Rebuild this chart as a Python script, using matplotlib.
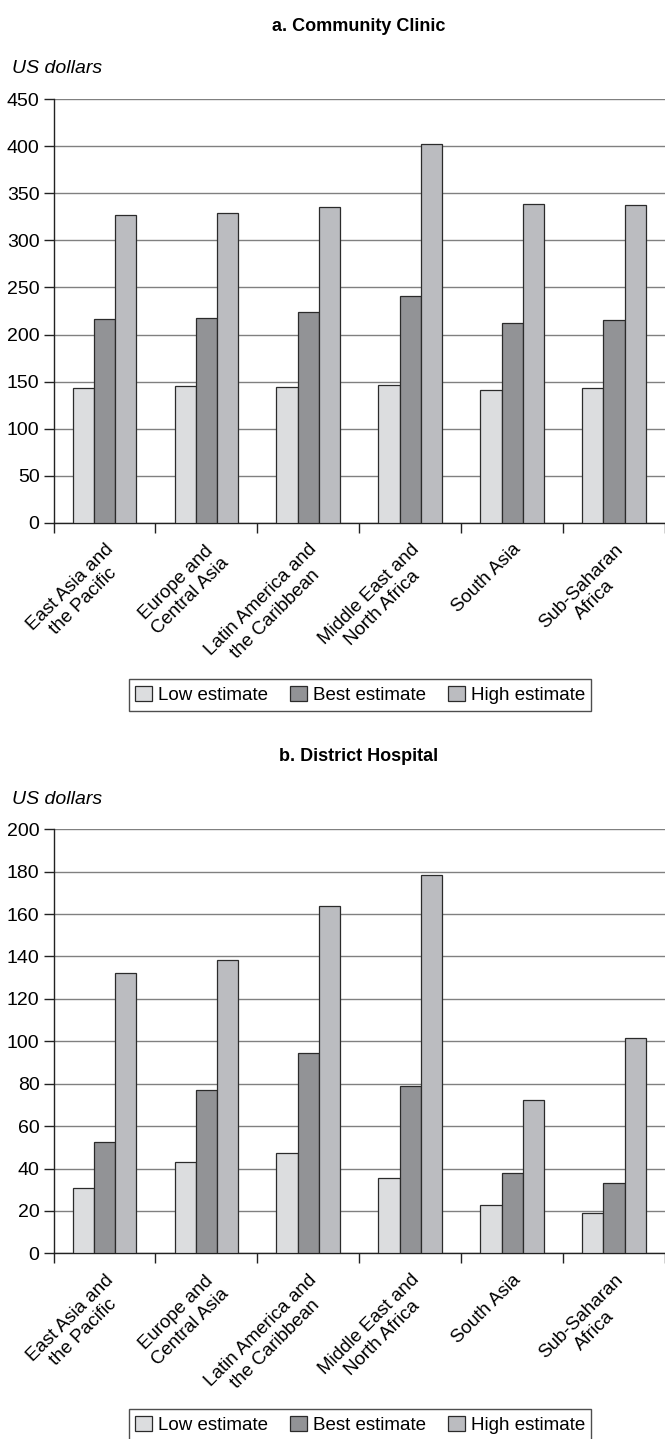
import numpy as np
import matplotlib
matplotlib.use('Agg')
import matplotlib.pyplot as plt

plt.rcParams['font.family'] = ['Liberation Sans', 'DejaVu Sans']

# data
regioes = ['East Asia and\nthe Pacific', 'Europe and\nCentral Asia',
           'Latin America and\nthe Caribbean', 'Middle East and\nNorth Africa',
           'South Asia', 'Sub-Saharan\nAfrica']
series = ['Low estimate', 'Best estimate', 'High estimate']

low_a = [143, 145, 144, 146, 141, 143]
best_a = [216, 218, 224, 241, 212, 215]
high_a = [327, 329, 336, 403, 339, 338]

low_b = [31, 43, 47.5, 35.5, 23, 19]
best_b = [52.5, 77, 94.5, 79, 38, 33]
high_b = [132, 138.5, 164, 178.5, 72.5, 101.5]

cores = ['#dcdddf', '#929396', '#bbbcc0']

W, H = 665, 1439
fig = plt.figure(figsize=(W / 100, H / 100), dpi=100)


def painel(ax, valores, ymax, passo, titulo, y_titulo, y_unid, y_leg):
    x = np.arange(len(regioes))
    larg = 0.208
    for i, (vals, cor, nome) in enumerate(zip(valores, cores, series)):
        ax.bar(x + (i - 1) * larg, vals, larg, color=cor, edgecolor='#2b2b2b',
               linewidth=0.9, label=nome, zorder=3)
    ax.set_xlim(-0.5, len(regioes) - 0.5)
    ax.set_ylim(0, ymax)
    ax.set_yticks(np.arange(0, ymax + 1, passo))
    ax.yaxis.grid(True, color='#808080', linewidth=1.0, zorder=0)
    for s in ['top', 'right']:
        ax.spines[s].set_visible(False)
    for s in ['left', 'bottom']:
        ax.spines[s].set_color('#222222')
        ax.spines[s].set_linewidth(1.0)
    ax.tick_params(axis='y', length=7, width=1, color='#222222',
                   labelsize=14, pad=3)
    # marcas nas divisões entre regiões
    ax.set_xticks(np.arange(-0.5, len(regioes), 1), minor=True)
    ax.tick_params(axis='x', which='minor', length=7, width=1, color='#222222')
    ax.set_xticks(x)
    ax.set_xticklabels(regioes, rotation=45, ha='right', va='top',
                       rotation_mode='anchor', multialignment='center',
                       fontsize=13.5)
    ax.tick_params(axis='x', which='major', length=0, pad=13)

    fig.text(359 / W, 1 - y_titulo / H, titulo, ha='center', va='center',
             fontsize=13, fontweight='bold')
    fig.text(12 / W, 1 - y_unid / H, 'US dollars', ha='left', va='center',
             fontsize=14, style='italic')
    leg = fig.legend(*ax.get_legend_handles_labels(), loc='center',
                     bbox_to_anchor=(360 / W, 1 - y_leg / H), ncol=3,
                     fontsize=13.5, frameon=True, fancybox=False,
                     handlelength=0.9, handleheight=0.9,
                     handletextpad=0.3, columnspacing=1.2,
                     borderpad=0.35)
    leg.get_frame().set_edgecolor('#222222')
    leg.get_frame().set_linewidth(1.0)


ax1 = fig.add_axes([53.5 / W, 1 - 522.7 / H, 611.5 / W, 423.4 / H])
painel(ax1, [low_a, best_a, high_a], 450, 50, 'a. Community Clinic',
       26.7, 68.5, 695)

ax2 = fig.add_axes([53.5 / W, 1 - 1253.3 / H, 611.5 / W, 424 / H])
painel(ax2, [low_b, best_b, high_b], 200, 20, 'b. District Hospital',
       756.7, 800, 1425)

fig.savefig('out.png', dpi=100)
